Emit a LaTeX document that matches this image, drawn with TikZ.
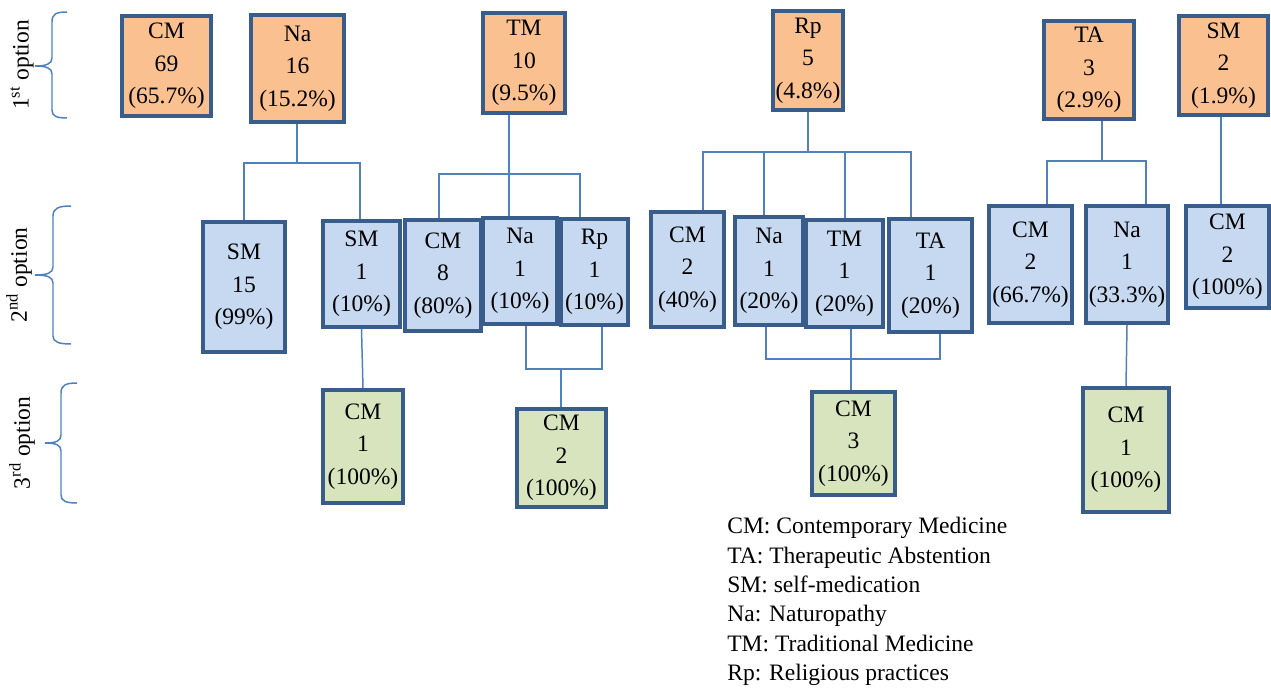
\documentclass[tikz,border=0pt]{standalone}
\usepackage{fontspec}
\setmainfont{Liberation Serif}
\usetikzlibrary{positioning}
\definecolor{boxline}{HTML}{385D8A}
\definecolor{linkblue}{HTML}{4F81BD}
\definecolor{firstfill}{HTML}{FAC090}
\definecolor{secondfill}{HTML}{C6D9F1}
\definecolor{thirdfill}{HTML}{D7E4BD}

\begin{document}
\begin{tikzpicture}[x=0.02cm, y=-0.02cm]
    \tikzset{
        optbox/.style = {rectangle, draw=boxline, line width=2.2pt, inner sep=0pt, align=center, font=\fontsize{13.4}{18.4}\selectfont},
        first/.style = {optbox, fill=firstfill},
        second/.style = {optbox, fill=secondfill},
        third/.style = {optbox, fill=thirdfill},
        link/.style = {draw=linkblue, line width=0.85pt},
        level/.style = {rotate=90, inner sep=0pt, font=\fontsize{13.4}{16}\selectfont},
        lbrace/.style = {draw=linkblue, line width=0.85pt},
    }
    \useasboundingbox (0,0) rectangle (1271,687);

    % 1st option
    \node (cm_1st) [first, minimum width=1.78cm, minimum height=2.0cm] at (166.5,66) {CM\\69\\(65.7\%)};
    \node (na_1st) [first, minimum width=1.86cm, minimum height=2.14cm] at (297.5,68.5) {Na\\16\\(15.2\%)};
    \node (tm_1st) [first, minimum width=1.64cm, minimum height=2.0cm] at (524,63) {TM\\10\\(9.5\%)};
    \node (rp_1st) [first, minimum width=1.40cm, minimum height=1.98cm] at (808,60.5) {Rp\\5\\(4.8\%)};
    \node (ta_1st) [first, minimum width=1.80cm, minimum height=1.96cm] at (1089,70) {TA\\3\\(2.9\%)};
    \node (sm_1st) [first, minimum width=1.78cm, minimum height=1.98cm] at (1223.5,65.5) {SM\\2\\(1.9\%)};

    % 2nd option
    \node (na_sm_a) [second, minimum width=1.64cm, minimum height=2.6cm] at (244,287) {SM\\15\\(99\%)};
    \node (na_sm_b) [second, minimum width=1.54cm, minimum height=2.12cm] at (361.5,274) {SM\\1\\(10\%)};
    \node (tm_cm) [second, minimum width=1.52cm, minimum height=2.22cm] at (443,275.5) {CM\\8\\(80\%)};
    \node (tm_na) [second, minimum width=1.48cm, minimum height=2.12cm] at (520,271) {Na\\1\\(10\%)};
    \node (tm_rp) [second, minimum width=1.34cm, minimum height=2.12cm] at (594.5,272) {Rp\\1\\(10\%)};
    \node (rp_cm) [second, minimum width=1.46cm, minimum height=2.30cm] at (687.5,269.5) {CM\\2\\(40\%)};
    \node (rp_na) [second, minimum width=1.36cm, minimum height=2.16cm] at (769,271) {Na\\1\\(20\%)};
    \node (rp_tm) [second, minimum width=1.54cm, minimum height=2.14cm] at (844.5,273.5) {TM\\1\\(20\%)};
    \node (rp_ta) [second, minimum width=1.66cm, minimum height=2.26cm] at (930.5,275.5) {TA\\1\\(20\%)};
    \node (ta_cm) [second, minimum width=1.66cm, minimum height=2.34cm] at (1030.5,264.5) {CM\\2\\(66.7\%)};
    \node (ta_na) [second, minimum width=1.64cm, minimum height=2.34cm] at (1127,264.5) {Na\\1\\(33.3\%)};
    \node (sm_cm) [second, minimum width=1.66cm, minimum height=2.04cm] at (1227.5,257) {CM\\2\\(100\%)};

    % 3rd option
    \node (na_third) [third, minimum width=1.60cm, minimum height=2.26cm] at (363,446.5) {CM\\1\\(100\%)};
    \node (tm_third) [third, minimum width=1.78cm, minimum height=1.96cm] at (561.5,458) {CM\\2\\(100\%)};
    \node (rp_third) [third, minimum width=1.66cm, minimum height=2.06cm] at (853.5,443.5) {CM\\3\\(100\%)};
    \node (ta_third) [third, minimum width=1.72cm, minimum height=2.48cm] at (1126,450) {CM\\1\\(100\%)};

    % 1st -> 2nd
    \coordinate (na_bus_m) at (297,163);
    \coordinate (na_bus_r) at (360,163);
    \draw [link] (na_1st.south -| na_bus_m) -- (na_bus_m);
    \draw [link] (na_sm_a.north) |- (na_bus_r) -- (na_sm_b.north -| na_bus_r);

    \coordinate (tm_bus_l) at (439,174);
    \coordinate (tm_bus_m) at (509,174);
    \coordinate (tm_bus_r) at (580,174);
    \draw [link] (tm_1st.south -| tm_bus_m) -- (tm_bus_m) -- (tm_na.north -| tm_bus_m);
    \draw [link] (tm_cm.north -| tm_bus_l) |- (tm_bus_r) -- (tm_rp.north -| tm_bus_r);

    \coordinate (rp_bus_l) at (703,152);
    \coordinate (rp_bus_na) at (764,152);
    \coordinate (rp_bus_tm) at (845,152);
    \coordinate (rp_bus_r) at (911,152);
    \draw [link] (rp_1st.south) -- (rp_1st.south |- rp_bus_l);
    \draw [link] (rp_cm.north -| rp_bus_l) |- (rp_bus_r) -- (rp_ta.north -| rp_bus_r);
    \draw [link] (rp_bus_na) -- (rp_na.north -| rp_bus_na);
    \draw [link] (rp_bus_tm) -- (rp_tm.north -| rp_bus_tm);

    \coordinate (ta_bus_l) at (1047,161);
    \coordinate (ta_bus_m) at (1102,161);
    \coordinate (ta_bus_r) at (1146,161);
    \draw [link] (ta_1st.south -| ta_bus_m) -- (ta_bus_m);
    \draw [link] (ta_cm.north -| ta_bus_l) |- (ta_bus_r) -- (ta_na.north -| ta_bus_r);

    \coordinate (sm_drop) at (1221,0);
    \draw [link] (sm_1st.south -| sm_drop) -- (sm_cm.north -| sm_drop);

    % 2nd -> 3rd
    \draw [link] (na_sm_b.south) -- (na_third.north);

    \coordinate (tm_join_l) at (526,369);
    \coordinate (tm_join_m) at (561,369);
    \coordinate (tm_join_r) at (602,369);
    \draw [link] (tm_na.south -| tm_join_l) |- (tm_join_r) -- (tm_rp.south -| tm_join_r);
    \draw [link] (tm_join_m) -- (tm_third.north -| tm_join_m);

    \coordinate (rp_join_l) at (766,359);
    \coordinate (rp_join_m) at (851,359);
    \coordinate (rp_join_r) at (940,359);
    \draw [link] (rp_na.south -| rp_join_l) |- (rp_join_r) -- (rp_ta.south -| rp_join_r);
    \draw [link] (rp_tm.south -| rp_join_m) -- (rp_third.north -| rp_join_m);

    \draw [link] (ta_na.south) -- (ta_third.north);

    % levels
    \draw [lbrace] (67,12) .. controls (56,12) and (52,14) .. (52,22) -- (52,58)
        .. controls (52,64) and (46,66) .. (35,66) .. controls (46,66) and (52,68) .. (52,74)
        -- (52,110) .. controls (52,116) and (56,118) .. (67,118);
    \draw [lbrace] (71,206) .. controls (59,206) and (53,208) .. (53,216) -- (53,267)
        .. controls (53,273) and (47,275) .. (35,275) .. controls (47,275) and (53,277) .. (53,283)
        -- (53,336) .. controls (53,342) and (59,344) .. (71,344);
    \draw [lbrace] (77,383) .. controls (66,383) and (61,385) .. (61,393) -- (61,435)
        .. controls (61,441) and (56,443) .. (45,443) .. controls (56,443) and (61,445) .. (61,451)
        -- (61,495) .. controls (61,501) and (66,503) .. (77,503);
    \node (lvl_1st) [level] at (22,65) {1\textsuperscript{st} option};
    \node (lvl_2nd) [level] at (19,275) {2\textsuperscript{nd} option};
    \node (lvl_3rd) [level] at (22,443) {3\textsuperscript{rd} option};

    % legend
    \node (legend) [anchor=north west, align=left, inner sep=0pt, font=\fontsize{13.4}{16.7}\selectfont] at (727,517) {CM: Contemporary Medicine\\TA: Therapeutic Abstention\\SM: self-medication\\Na: Naturopathy\\TM: Traditional Medicine\\Rp: Religious practices};
\end{tikzpicture}
\end{document}
